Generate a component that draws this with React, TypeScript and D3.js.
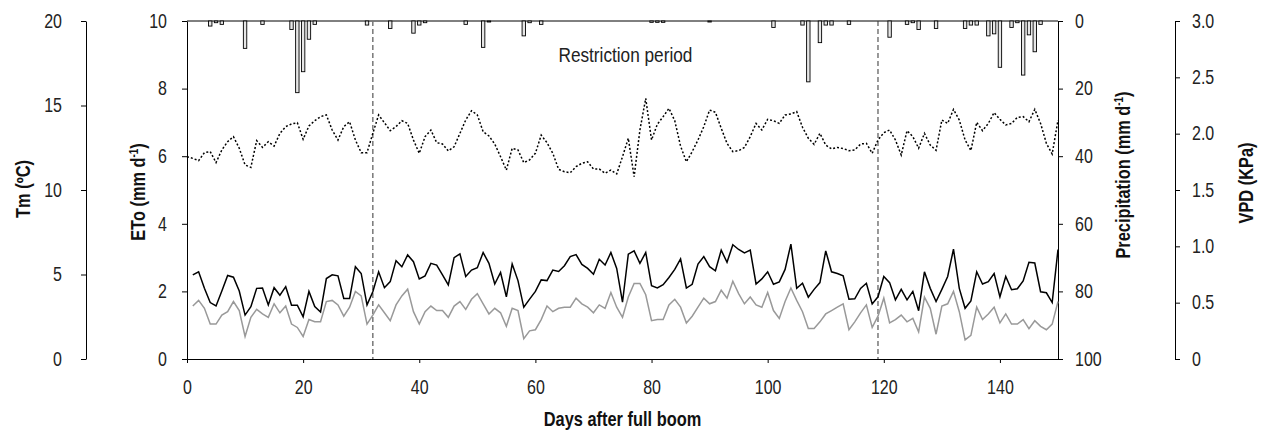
import React, { useEffect, useRef } from "react";
import * as d3 from "d3";

// daily series
const etoValues = [
  2.49, 2.58, 2.09, 1.67, 1.57, 2.01, 2.47, 2.42, 2.01, 1.30, 1.55, 2.09, 2.10, 1.60, 2.11, 1.89, 2.14, 1.59, 1.59, 1.25, 2.00, 1.55, 1.39, 2.38, 2.49,
  2.46, 1.79, 1.79, 2.73, 2.53, 1.60, 1.99, 2.58, 2.11, 2.29, 2.91, 2.73, 3.08, 2.88, 2.37, 2.46, 2.83, 2.78, 2.49, 2.19, 3.00, 3.11, 2.44, 2.63, 2.70, 3.15,
  2.83, 2.22, 2.56, 1.84, 2.81, 2.32, 1.53, 1.77, 2.00, 2.34, 2.32, 2.63, 2.59, 2.76, 3.03, 3.09, 2.80, 2.68, 2.51, 2.95, 2.78, 3.15, 2.68, 1.68, 3.10, 3.20,
  2.83, 3.15, 2.17, 2.10, 2.20, 2.41, 2.65, 2.96, 2.10, 2.21, 2.81, 3.03, 2.73, 2.61, 3.22, 2.86, 3.38, 3.24, 3.14, 3.22, 2.22, 2.37, 2.58, 2.21, 2.28, 2.65,
  3.40, 2.09, 2.24, 1.83, 2.06, 2.26, 3.20, 2.58, 2.53, 2.46, 1.77, 1.78, 2.09, 2.24, 1.63, 1.84, 2.44, 2.26, 1.75, 2.06, 1.75, 2.00, 1.43, 2.58, 2.09, 1.70,
  2.06, 2.44, 3.25, 2.09, 1.50, 1.72, 2.58, 2.22, 2.29, 2.53, 1.84, 2.44, 2.05, 2.08, 2.31, 2.86, 2.84, 1.99, 1.96, 1.67, 3.24,
];

const vpdValues = [
  0.47, 0.52, 0.45, 0.31, 0.31, 0.39, 0.42, 0.51, 0.43, 0.20, 0.37, 0.44, 0.40, 0.37, 0.49, 0.41, 0.47, 0.31, 0.28, 0.20, 0.35, 0.33, 0.33, 0.51, 0.52,
  0.48, 0.38, 0.46, 0.60, 0.56, 0.31, 0.39, 0.48, 0.41, 0.34, 0.48, 0.56, 0.62, 0.42, 0.31, 0.42, 0.47, 0.43, 0.43, 0.37, 0.47, 0.51, 0.44, 0.53, 0.58, 0.49,
  0.40, 0.45, 0.41, 0.29, 0.45, 0.43, 0.18, 0.25, 0.26, 0.35, 0.47, 0.42, 0.45, 0.46, 0.46, 0.54, 0.49, 0.46, 0.41, 0.48, 0.45, 0.59, 0.46, 0.37, 0.55, 0.67,
  0.67, 0.57, 0.34, 0.35, 0.35, 0.48, 0.53, 0.46, 0.32, 0.38, 0.46, 0.54, 0.49, 0.51, 0.61, 0.54, 0.69, 0.58, 0.49, 0.55, 0.48, 0.46, 0.59, 0.43, 0.36, 0.51,
  0.63, 0.52, 0.42, 0.27, 0.27, 0.33, 0.40, 0.43, 0.46, 0.49, 0.26, 0.33, 0.41, 0.48, 0.28, 0.38, 0.54, 0.32, 0.35, 0.39, 0.33, 0.36, 0.24, 0.55, 0.45, 0.22,
  0.47, 0.49, 0.60, 0.42, 0.17, 0.21, 0.46, 0.35, 0.40, 0.46, 0.32, 0.40, 0.31, 0.31, 0.35, 0.27, 0.34, 0.29, 0.26, 0.31, 0.51,
];

// Tm starts at day 0
const tmValues = [
  11.97, 11.87, 11.74, 12.21, 12.27, 11.62, 12.37, 12.86, 13.16, 12.47, 11.48, 11.34, 12.92, 12.52, 12.86, 12.60, 13.35, 13.75, 13.91, 13.98, 13.00, 13.79, 14.10, 14.34, 14.44, 13.55,
  12.96, 13.75, 14.04, 12.96, 12.21, 12.21, 13.35, 14.44, 13.98, 13.51, 13.75, 14.10, 13.94, 12.96, 12.17, 13.16, 13.55, 12.80, 12.72, 12.31, 12.56, 13.35, 14.14, 14.69, 14.44, 13.45,
  13.20, 12.72, 11.97, 11.18, 12.47, 12.37, 11.62, 11.78, 12.17, 13.25, 12.80, 12.17, 11.22, 11.08, 11.02, 11.38, 11.58, 11.67, 11.24, 11.24, 10.99, 11.18, 10.95, 11.97, 13.06, 10.79,
  13.55, 15.42, 12.96, 13.89, 14.34, 14.83, 14.10, 12.60, 11.67, 12.27, 12.96, 13.75, 14.73, 14.60, 13.65, 12.76, 12.27, 12.33, 12.52, 13.16, 13.94, 13.55, 14.18, 14.10, 13.94, 14.44,
  14.50, 14.64, 13.71, 13.06, 12.70, 13.35, 12.66, 12.43, 12.52, 12.45, 12.33, 12.37, 12.72, 12.76, 12.17, 12.96, 13.39, 13.55, 12.96, 12.07, 13.51, 13.16, 12.47, 13.35, 12.66, 12.35,
  14.14, 13.94, 14.77, 14.14, 12.96, 12.33, 14.00, 13.51, 13.94, 14.58, 14.18, 13.85, 13.94, 14.30, 14.34, 14.04, 14.77, 13.94, 12.76, 12.13, 14.14,
];

const precipDays = [4, 5, 6, 10, 13, 18, 19, 20, 21, 22, 31, 35, 39, 40, 41, 48, 51, 52, 58, 59, 61, 80, 81, 82, 90, 101, 106, 107, 109, 110, 111, 114, 121, 124, 125, 126, 129, 134, 135, 136, 138, 139, 140, 142, 143, 144, 145, 146, 147];
const precipValues = [1.5, 0.5, 1, 8.1, 1, 2.5, 21.2, 15, 5.4, 1, 1.2, 2.2, 3.6, 1.2, 0.5, 1, 7.8, 0.3, 4.4, 0.5, 1, 0.4, 0.4, 0.4, 0.3, 1.9, 1.2, 18, 6.4, 1.2, 1.2, 1, 4.8, 1, 0.5, 2.5, 2.2, 2.2, 1.2, 1.2, 4.4, 3.8, 13.7, 1.9, 0.5, 16, 4.1, 9.1, 1];

const restrictionDays = [32, 119];
const dayTicks = [0, 20, 40, 60, 80, 100, 120, 140];
const tmTicks = [0, 5, 10, 15, 20];
const etoTicks = [0, 2, 4, 6, 8, 10];
const precipTicks = [0, 20, 40, 60, 80, 100];
const vpdTicks = [0, 0.5, 1, 1.5, 2, 2.5, 3];

// Arial-metric font squeezed horizontally to look like a narrow face
const FONT = '"Liberation Sans", Arial, sans-serif';
const SX = 0.82;

export default function App() {
  const ref = useRef<SVGSVGElement>(null);

  useEffect(() => {
    const svg = d3.select(ref.current);
    svg.selectAll("*").remove();

    const left = 187, right = 1058, top = 21, bottom = 359;

    const x = d3.scaleLinear().domain([0, 150]).range([left, right]);
    const yEto = d3.scaleLinear().domain([0, 10]).range([bottom, top]);
    const yTm = d3.scaleLinear().domain([0, 20]).range([bottom, top]);
    const yVpd = d3.scaleLinear().domain([0, 3]).range([bottom, top]);
    const yPrec = d3.scaleLinear().domain([0, 100]).range([top, bottom]);

    const styleAxis = (g: any) => {
      g.selectAll("path,line").attr("stroke", "#000").attr("stroke-width", 1);
      g.selectAll("text")
        .attr("font-family", FONT).attr("font-size", 19.5).attr("fill", "#222")
        .each(function (this: any) {
          const t = d3.select(this);
          const xv = +(t.attr("x") || 0);
          t.attr("x", xv / SX).attr("transform", `scale(${SX},1)`);
        });
    };

    // axes
    svg.append("g").attr("transform", `translate(86,0)`)
      .call(d3.axisLeft(yTm).tickValues(tmTicks).tickSize(5).tickSizeOuter(0).tickPadding(19).tickFormat(d3.format("d")))
      .call(styleAxis);

    svg.append("g").attr("transform", `translate(${left},0)`)
      .call(d3.axisLeft(yEto).tickValues(etoTicks).tickSize(5).tickSizeOuter(0).tickPadding(15).tickFormat(d3.format("d")))
      .call(styleAxis);

    svg.append("g").attr("transform", `translate(0,${bottom})`)
      .call(d3.axisBottom(x).tickValues(dayTicks).tickSize(4).tickSizeOuter(0).tickPadding(17).tickFormat(d3.format("d")))
      .call(styleAxis);

    svg.append("g").attr("transform", `translate(${right},0)`)
      .call(d3.axisRight(yPrec).tickValues(precipTicks).tickSize(5).tickSizeOuter(0).tickPadding(12).tickFormat(d3.format("d")))
      .call(styleAxis);

    svg.append("g").attr("transform", `translate(1175,0)`)
      .call(d3.axisRight(yVpd).tickValues(vpdTicks).tickSize(5).tickSizeOuter(0).tickPadding(12)
        .tickFormat((d: any) => (d === 0 ? "0" : d3.format(".1f")(d))))
      .call(styleAxis);

    // top border
    svg.append("line").attr("x1", left).attr("x2", right).attr("y1", top).attr("y2", top)
      .attr("stroke", "#000").attr("stroke-width", 1);

    // restriction period markers
    svg.selectAll(".restr").data(restrictionDays).join("line")
      .attr("x1", d => x(d)).attr("x2", d => x(d)).attr("y1", top).attr("y2", bottom)
      .attr("stroke", (d, i) => (i === 0 ? "#777" : "#333"))
      .attr("stroke-width", (d, i) => (i === 0 ? 1.5 : 1))
      .attr("stroke-dasharray", "5,3");

    svg.append("text")
      .attr("transform", `translate(${x((restrictionDays[0] + restrictionDays[1]) / 2)},62) scale(${SX},1)`)
      .attr("text-anchor", "middle").attr("font-family", FONT).attr("font-size", 21).attr("fill", "#222")
      .text("Restriction period");

    // precipitation bars hanging from the top
    const bw = 3.4;
    svg.selectAll(".bar").data(precipDays).join("rect")
      .attr("x", d => x(d) - bw / 2)
      .attr("y", top)
      .attr("width", bw)
      .attr("height", (d, i) => yPrec(precipValues[i]) - top)
      .attr("fill", "#e6e6e6").attr("stroke", "#000").attr("stroke-width", 0.9);

    // lines
    const tmLine = d3.line<number>().x((d, i) => x(i)).y(d => yTm(d));
    const etoLine = d3.line<number>().x((d, i) => x(i + 1)).y(d => yEto(d));
    const vpdLine = d3.line<number>().x((d, i) => x(i + 1)).y(d => yVpd(d));

    svg.append("path").datum(tmValues).attr("d", tmLine)
      .attr("fill", "none").attr("stroke", "#000").attr("stroke-width", 1.5).attr("stroke-dasharray", "2,2");
    svg.append("path").datum(vpdValues).attr("d", vpdLine)
      .attr("fill", "none").attr("stroke", "#999").attr("stroke-width", 1.5);
    svg.append("path").datum(etoValues).attr("d", etoLine)
      .attr("fill", "none").attr("stroke", "#000").attr("stroke-width", 1.5);

    // axis titles
    const title = (cx: number, cy: number, main: string, sup?: string, tail?: string) => {
      const t = svg.append("text")
        .attr("transform", `translate(${cx},${cy}) rotate(-90) scale(${SX},1)`)
        .attr("text-anchor", "middle").attr("dy", "0.35em")
        .attr("font-family", FONT).attr("font-size", 20).attr("font-weight", "bold").attr("fill", "#111");
      t.append("tspan").text(main);
      if (sup) {
        t.append("tspan").attr("font-size", 12).attr("dy", "-7").text(sup);
        t.append("tspan").attr("dy", "7").text(tail || "");
      }
    };
    title(23, 189, "Tm (ºC)");
    title(138, 192, "ETo (mm d", "-1", ")");
    title(1123, 175, "Precipitation (mm d", "-1", ")");
    title(1246, 183, "VPD (KPa)");

    svg.append("text")
      .attr("transform", `translate(${(left + right) / 2},426) scale(${SX},1)`)
      .attr("text-anchor", "middle").attr("font-family", FONT).attr("font-size", 20).attr("font-weight", "bold").attr("fill", "#111")
      .text("Days after full boom");
  }, []);

  return (
    <svg ref={ref} width={1263} height={430}
      style={{ position: "absolute", left: 0, top: 0, background: "#fff" }} />
  );
}
